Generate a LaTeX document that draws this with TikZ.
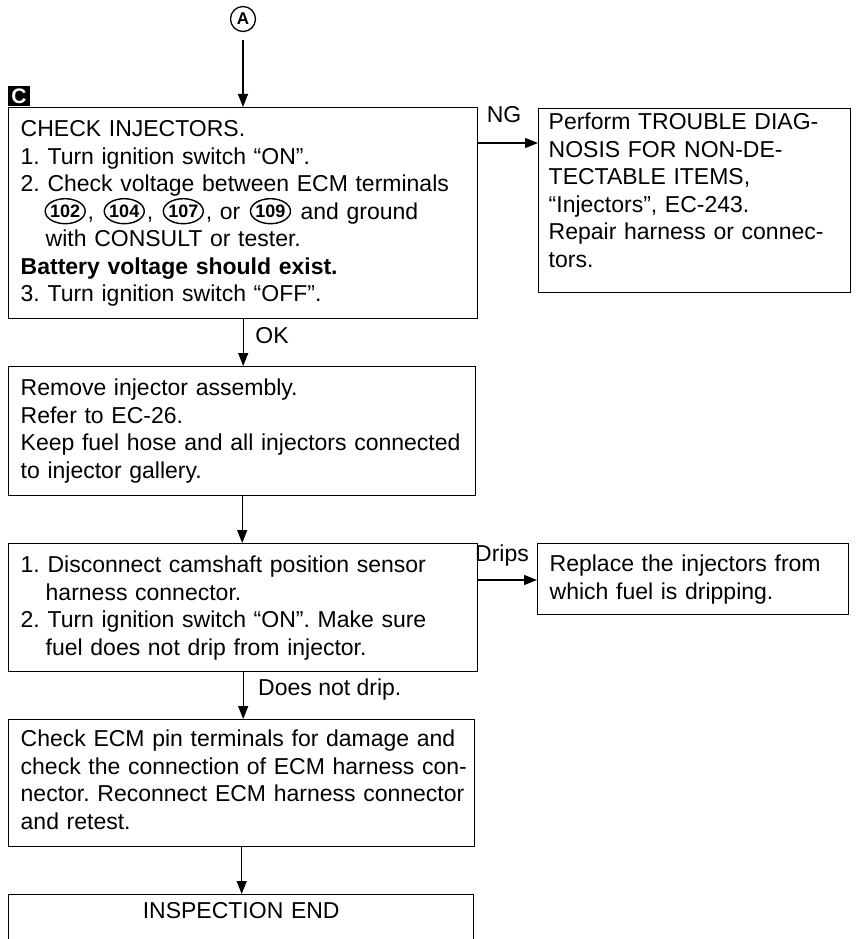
\documentclass[tikz,border=0pt]{standalone}
\usepackage{fontspec}
\setmainfont{Liberation Sans}
\usetikzlibrary{arrows.meta,shapes.geometric}
\frenchspacing
\newcommand\cnum[1]{\tikz[baseline=-8pt, x=1pt, y=1pt]{\path (0,0) -- (45,0); \draw[line width=1.4pt] (22.5,0) ellipse [x radius=20pt, y radius=12.5pt]; \node[inner sep=0pt, text width={}, text height={}, text depth={}, anchor=center, font=\bfseries\fontsize{18}{18}\selectfont] (cn) at (22.5,0) {#1};}}
\newcommand\ml[1]{\mbox{#1}}
\tikzset{
  box/.style={draw, line width=1.4pt, anchor=north west, inner ysep=0pt, inner xsep=12pt, align=left},
  arr/.style={line width=1.3pt, -{Triangle[length=13pt,width=10pt]}},
  lbl/.style={inner sep=0pt, anchor=base}
}
\begin{document}
\begin{tikzpicture}[x=1pt,y=-1pt, font=\fontsize{23}{27.5}\selectfont]
\useasboundingbox (0,0) rectangle (859,939);

\node[circle, draw, line width=1.3pt, minimum size=25pt, inner sep=0pt, font=\bfseries\fontsize{17}{17}\selectfont] (A) at (243,19) {A};
\node[fill=black, text=white, font=\bfseries\fontsize{21}{21}\selectfont, minimum width=22pt, minimum height=20pt, inner sep=0pt] (Cb) at (19,96) {C};

\node[box, text width=445pt, text height=29pt, text depth=182pt] (b1) at (8,107) {\ml{CHECK INJECTORS.}\\
\ml{1. Turn ignition switch “ON”.}\\
\ml{2. Check voltage between ECM terminals}\\
\ml{\hspace*{22pt}\cnum{102}, \cnum{104}, \cnum{107}, or \cnum{109} and ground}\\
\ml{\hspace*{25pt}with CONSULT or tester.}\\
\ml{\textbf{Battery voltage should exist.}}\\
\ml{3. Turn ignition switch “OFF”.}};

\node[box, inner xsep=10pt, text width=292pt, text height=21pt, text depth=163pt] (b2) at (538,108) {\ml{Perform TROUBLE DIAG-}\\
\ml{NOSIS FOR NON-DE-}\\
\ml{TECTABLE ITEMS,}\\
\ml{“Injectors”, EC-243.}\\
\ml{Repair harness or connec-}\\
\ml{tors.}};

\node[box, text width=443pt, text height=29pt, text depth=100pt] (b3) at (8,366) {\ml{Remove injector assembly.}\\
\ml{Refer to EC-26.}\\
\ml{Keep fuel hose and all injectors connected}\\
\ml{to injector gallery.}};

\node[box, text width=445pt, text height=29pt, text depth=99pt] (b4) at (8,543) {\ml{1. Disconnect camshaft position sensor}\\
\ml{\hspace*{25pt}harness connector.}\\
\ml{2. Turn ignition switch “ON”. Make sure}\\
\ml{\hspace*{25pt}fuel does not drip from injector.}};

\node[box, text width=287pt, text height=28pt, text depth=43pt] (b5) at (537,543) {\ml{Replace the injectors from}\\
\ml{which fuel is dripping.}};

\node[box, text width=442pt, text height=27pt, text depth=100pt] (b6) at (8,719) {\ml{Check ECM pin terminals for damage and}\\
\ml{check the connection of ECM harness con-}\\
\ml{nector. Reconnect ECM harness connector}\\
\ml{and retest.}};

\node[box, align=center, text width=441pt, text height=24pt, text depth=40pt] (b7) at (8,894) {INSPECTION END};

\coordinate (ngy) at (0,143);
\coordinate (dry) at (0,580);

\draw[arr] ([yshift=-8pt]A.south) -- (A |- b1.north);
\draw[arr] (b1.east |- ngy) -- (b2.west |- ngy);
\draw[arr] (b1.south) -- (b1.south |- b3.north);
\draw[arr] (b3.south) -- (b3.south |- b4.north);
\draw[arr] (b4.east |- dry) -- (b5.west |- dry);
\draw[arr] (b4.south) -- (b4.south |- b6.north);
\draw[arr] (b6.south) -- (b6.south |- b7.north);

\node[lbl] (ng) at (504,123) {NG};
\node[lbl] (ok) at (272,343) {OK};
\node[lbl] (drips) at (502,561) {Drips};
\node[lbl, anchor=base west] (dnd) at (258,695) {Does not drip.};
\end{tikzpicture}
\end{document}
